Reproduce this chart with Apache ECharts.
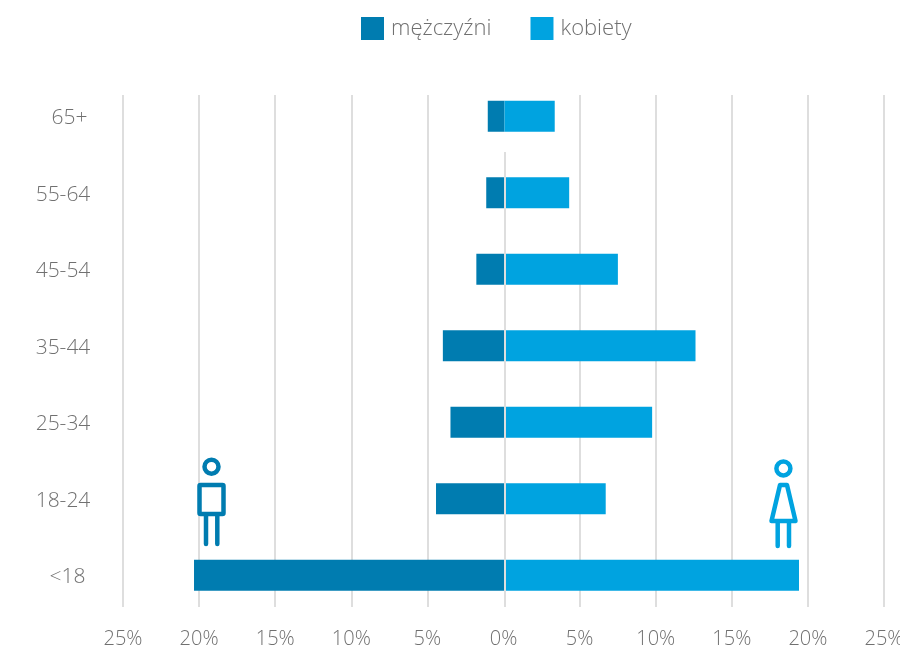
<!DOCTYPE html>
<html>
<head>
<meta charset="utf-8">
<style>html,body{margin:0;padding:0;background:#fff}#c{width:900px;height:648px}</style>
<script src="https://cdn.jsdelivr.net/npm/echarts@6/dist/echarts.min.js"></script>
</head>
<body>
<div id="c"></div>
<script>
const categories = ['<18', '18-24', '25-34', '35-44', '45-54', '55-64', '65+'];
const men = [20.4, 4.5, 3.55, 4.05, 1.85, 1.2, 1.1];
const women = [19.35, 6.65, 9.7, 12.55, 7.45, 4.25, 3.3];
const seriesNames = ['mężczyźni', 'kobiety'];

const MALE = '#007cb0', FEMALE = '#00a3e0', TXT = '#707070', GRID = '#dedede';
const FONT = '"Open Sans", sans-serif';
const pct = v => Math.abs(v) + '%';
const lineColors = [GRID,GRID,GRID,GRID,GRID,'rgba(0,0,0,0)',GRID,GRID,GRID,GRID,GRID];

const icon = (color, shapes) => shapes.map(s => Object.assign({
  silent: true, z: 20,
  style: {fill: 'none', stroke: color, lineWidth: s.lw || 4.5, lineCap: 'round', lineJoin: 'round'}
}, s));

const labelStyle = {color: TXT, fontSize: 21, fontFamily: FONT, fontWeight: 300};
const chart = echarts.init(document.getElementById('c'), null, {renderer: 'canvas'});
chart.setOption({
  animation: false,
  backgroundColor: '#fff',
  textStyle: {fontFamily: FONT},
  legend: {
    left: 361, top: 17, padding: 0, itemWidth: 23, itemHeight: 23, itemGap: 39, itemStyle: {borderWidth: 0}, icon: 'rect',
    textStyle: {color: TXT, fontSize: 22, fontFamily: FONT, fontWeight: 300, padding: [0,0,0,2]},
    data: seriesNames
  },
  grid: [
    {left: 124, right: 15, top: 78, bottom: 34.5, outerBoundsMode: 'none'},
    {left: 123, right: 16, top: 95, bottom: 41, outerBoundsMode: 'none'},
    {left: 124, right: 15, top: 152, bottom: 41, outerBoundsMode: 'none'}
  ],
  xAxis: [
    {gridIndex: 0, type: 'value', min: -25, max: 25, interval: 5, show: false},
    {gridIndex: 1, type: 'value', min: -25, max: 25, interval: 5, z: 0,
     axisLine: {show: false}, axisTick: {show: false},
     splitLine: {show: true, lineStyle: {color: lineColors, width: 2}},
     axisLabel: {formatter: pct, color: TXT, fontSize: 20, fontFamily: FONT, fontWeight: 300, margin: 22, hideOverlap: false}},
    {gridIndex: 2, type: 'value', min: -25, max: 25, interval: 25, z: 10,
     axisLine: {show: false}, axisTick: {show: false}, axisLabel: {show: false},
     splitLine: {show: true, lineStyle: {color: ['rgba(0,0,0,0)', GRID, 'rgba(0,0,0,0)'], width: 2}}}
  ],
  yAxis: [
    {gridIndex: 0, type: 'category', data: categories,
     axisLine: {show: false}, axisTick: {show: false}, splitLine: {show: false},
     axisLabel: Object.assign({}, labelStyle, {
       align: 'center', margin: 61, padding: [4,0,0,0],
       formatter: v => v === '65+' ? '{top|' + v + '}' : v === '<18' ? '{low|' + v + '}' : v,
       rich: {
         top: Object.assign({}, labelStyle, {padding: [0,0,0,13]}),
         low: Object.assign({}, labelStyle, {padding: [0,0,0,9]})
       }
     })},
    {gridIndex: 1, type: 'value', min: 0, max: 1, show: false},
    {gridIndex: 2, type: 'value', min: 0, max: 1, show: false}
  ],
  series: [
    {name: seriesNames[0], type: 'bar', stack: 'pop', barWidth: 31, xAxisIndex: 0, yAxisIndex: 0,
     itemStyle: {color: MALE}, data: men.map(v => -v)},
    {name: seriesNames[1], type: 'bar', stack: 'pop', barWidth: 31, xAxisIndex: 0, yAxisIndex: 0,
     itemStyle: {color: FEMALE}, data: women}
  ],
  graphic: [
    ...icon(MALE, [
      {type: 'circle', shape: {cx: 211.5, cy: 466.7, r: 7}},
      {type: 'rect', shape: {x: 199.5, y: 485, width: 24, height: 29, r: 1}},
      {type: 'line', shape: {x1: 206, y1: 515, x2: 206, y2: 544}},
      {type: 'line', shape: {x1: 217.3, y1: 515, x2: 217.3, y2: 544}}
    ]),
    ...icon(FEMALE, [
      {type: 'circle', shape: {cx: 783.4, cy: 468.5, r: 7}},
      {type: 'polygon', shape: {points: [[780, 485], [787, 485], [795.5, 521], [771.5, 521]]}},
      {type: 'line', shape: {x1: 777.7, y1: 522, x2: 777.7, y2: 546}},
      {type: 'line', shape: {x1: 789, y1: 522, x2: 789, y2: 546}}
    ])
  ]
});
</script>
</body>
</html>
